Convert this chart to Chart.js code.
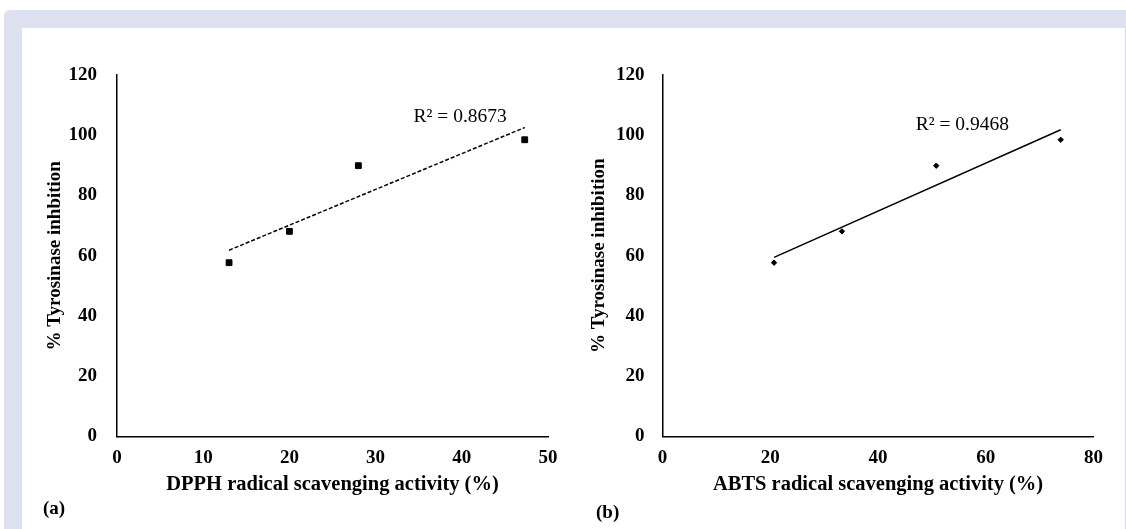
<!DOCTYPE html>
<html>
<head>
<meta charset="utf-8">
<script src="https://cdn.jsdelivr.net/npm/chart.js@4"></script>
<style>
  html, body { margin: 0; padding: 0; background: #fff; }
  body { width: 1126px; height: 529px; position: relative; overflow: hidden; font-family: "Liberation Serif", "Times New Roman", serif; }
  .frame { position: absolute; left: 4px; top: 10px; width: 1122px; height: 530px; background: #dde0ef; border-top-left-radius: 6px; }
  .panel { position: absolute; left: 22px; top: 28px; width: 1103px; height: 510px; background: #fff; border-right: 1px solid #d6d8e6; }
  .box { position: absolute; top: 50px; width: 545px; height: 460px; }
  .tag { position: absolute; font-weight: bold; font-size: 19px; line-height: 20px; color: #000; }
</style>
</head>
<body>
<div class="frame"></div>
<div class="panel"></div>
<div class="box" style="left:20px"><canvas id="chartA" width="545" height="460"></canvas></div>
<div class="box" style="left:575px"><canvas id="chartB" width="545" height="460"></canvas></div>
<div class="tag" style="left:43px; top:498px">(a)</div>
<div class="tag" style="left:596px; top:502px">(b)</div>
<script>
// values
const tyrosinaseY = [57.7, 68.1, 89.9, 98.5];
const dpphX = [13.0, 20.0, 28.0, 47.3];
const abtsX = [20.7, 33.3, 50.8, 73.9];
const yTicks = [0, 20, 40, 60, 80, 100, 120];
const dpphTicks = [0, 10, 20, 30, 40, 50];
const abtsTicks = [0, 20, 40, 60, 80];
const r2Text = ['R² = 0.8673', 'R² = 0.9468'];

const serif = '"Liberation Serif", "Times New Roman", serif';

// least squares trendline over the data range (like Excel)
function fitLine(xs, ys) {
    const n = xs.length;
    const mx = xs.reduce((a, b) => a + b, 0) / n;
    const my = ys.reduce((a, b) => a + b, 0) / n;
    let sxy = 0, sxx = 0;
    xs.forEach((x, i) => {
        sxy += (x - mx) * (ys[i] - my);
        sxx += (x - mx) * (x - mx);
    });
    const k = sxy / sxx, b = my - k * mx;
    const x0 = Math.min(...xs), x1 = Math.max(...xs);
    return [{x: x0, y: k * x0 + b}, {x: x1, y: k * x1 + b}];
}

const r2Plugin = {
    id: 'r2',
    afterDatasetsDraw(chart, args, opts) {
        const {ctx, scales} = chart;
        ctx.save();
        ctx.font = '19.5px ' + serif;
        ctx.fillStyle = '#000';
        ctx.textBaseline = 'middle';
        ctx.textAlign = 'left';
        ctx.fillText(opts.text, scales.x.getPixelForValue(opts.at[0]), scales.y.getPixelForValue(opts.at[1]));
        ctx.restore();
    }
};

function makeChart(id, o) {
    const ticksFrom = arr => s => { s.ticks = arr.map(v => ({value: v})); };
    new Chart(document.getElementById(id), {
        type: 'scatter',
        data: {
            datasets: [{
                data: o.xs.map((x, i) => ({x: x, y: tyrosinaseY[i]})),
                pointStyle: o.pointStyle,
                pointRadius: o.pointRadius,
                backgroundColor: '#000',
                borderColor: '#000',
                borderWidth: 1,
                order: 1
            }, {
                data: fitLine(o.xs, tyrosinaseY),
                showLine: true,
                borderColor: '#000',
                borderWidth: 1.5,
                borderDash: o.dash,
                pointRadius: 0,
                order: 2
            }]
        },
        options: {
            responsive: false,
            animation: false,
            layout: {padding: {left: 0, top: 25, right: o.padRight, bottom: 0}},
            plugins: {
                legend: {display: false},
                tooltip: {enabled: false},
                r2: {text: o.label, at: o.labelAt}
            },
            scales: {
                x: {
                    type: 'linear',
                    min: o.xTicks[0],
                    max: o.xTicks[o.xTicks.length - 1],
                    afterBuildTicks: ticksFrom(o.xTicks),
                    grid: {display: false, drawTicks: false},
                    border: {display: true, color: '#000', width: 1.5},
                    ticks: {color: '#000', padding: 10.4, font: {family: serif, size: 19, weight: 'bold'}},
                    title: {
                        display: true, text: o.xTitle, color: '#000',
                        font: {family: serif, size: 20.5, weight: 'bold'},
                        padding: {top: 0, bottom: 12.7}
                    },
                    afterFit: s => {
                        s.height = 73.5;
                        s.paddingLeft = 0;
                        s.paddingRight = 0;
                    }
                },
                y: {
                    type: 'linear',
                    min: yTicks[0],
                    max: yTicks[yTicks.length - 1],
                    afterBuildTicks: ticksFrom(yTicks),
                    grid: {display: false, drawTicks: false},
                    border: {display: true, color: '#000', width: 1.5},
                    ticks: {color: '#000', padding: o.yTickPad, font: {family: serif, size: 19, weight: 'bold'}},
                    title: {
                        display: true, text: o.yTitle, color: '#000',
                        font: {family: serif, size: 19, weight: 'bold'},
                        padding: {top: o.yTitlePad, bottom: 0}
                    },
                    afterFit: s => {
                        s.width = o.yWidth;
                        s.paddingTop = 0;
                        s.paddingBottom = 0;
                    }
                }
            }
        },
        plugins: [r2Plugin]
    });
}

makeChart('chartA', {
    xs: dpphX, xTicks: dpphTicks,
    xTitle: 'DPPH radical scavenging activity (%)',
    yTitle: '% Tyrosinase inhbition',
    pointStyle: 'rect', pointRadius: 4.1, dash: [4, 2],
    yWidth: 97, yTitlePad: 24.1, yTickPad: 20, padRight: 17,
    label: r2Text[0], labelAt: [34.4, 106.1]
});

makeChart('chartB', {
    xs: abtsX, xTicks: abtsTicks,
    xTitle: 'ABTS radical scavenging activity (%)',
    yTitle: '% Tyrosinase inhibition',
    pointStyle: 'rectRot', pointRadius: 2.7, dash: [],
    yWidth: 87.5, yTitlePad: 12.6, yTickPad: 18, padRight: 26.4,
    label: r2Text[1], labelAt: [47.0, 103.6]
});
</script>
</body>
</html>
